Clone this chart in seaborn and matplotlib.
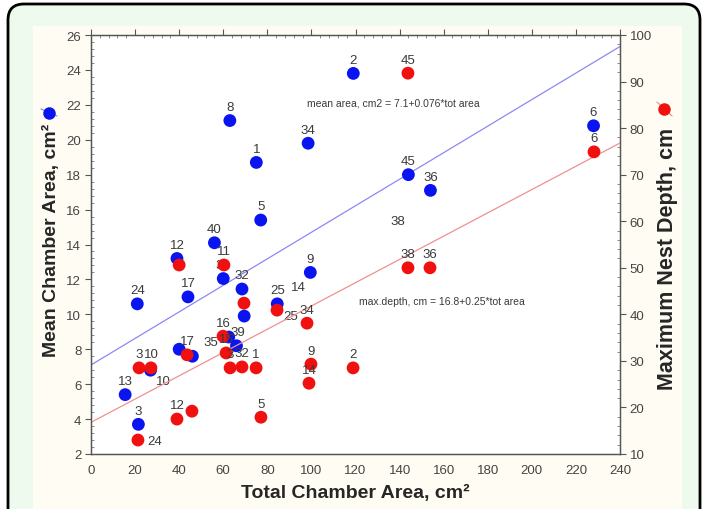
import numpy as np
import matplotlib.pyplot as plt
import seaborn as sns
from matplotlib.patches import FancyBboxPatch
from matplotlib.lines import Line2D
from matplotlib.ticker import MultipleLocator

# Mean chamber area (left axis)
area_x = [21, 15.5, 21.5, 27, 39, 40, 46, 44, 56, 60, 68.5, 69.5, 84.5, 77,
          63, 75, 98.5, 119, 144, 154, 99.5, 66, 62.5, 228]
area_y = [10.6, 5.4, 3.7, 6.8, 13.2, 8.0, 7.6, 11.0, 14.1, 12.05, 11.45, 9.9,
          10.6, 15.4, 21.1, 18.7, 19.8, 23.8, 18.0, 17.1, 12.4, 8.2, 8.7, 20.8]
area_lab = ['24', '13', '3', '', '12', '', '', '17', '40', '31', '32', '', '25', '5',
            '8', '1', '34', '2', '45', '36', '9', '39', '', '6']

# Maximum nest depth (right axis)
depth_x = [21.3, 21.8, 27.2, 39, 45.8, 40, 43.6, 60.3, 69.4, 84.4, 59.9, 61.3,
           63.1, 68.5, 74.9, 77.1, 98, 99.8, 98.9, 118.9, 143.8, 143.8, 153.8, 228.2]
depth_y = [13.0, 28.5, 28.5, 17.5, 19.2, 50.6, 31.3, 50.6, 42.4, 40.9, 35.3, 31.7,
           28.5, 28.7, 28.5, 17.9, 38.1, 29.3, 25.2, 28.5, 91.8, 50.0, 50.0, 74.9]
depth_lab = ['', '3', '10', '12', '', '', '17', '11', '', '', '16', '15',
             '3', '32', '1', '5', '34', '9', '14', '2', '45', '38', '36', '6']

# labels standing apart from their points (left-axis units)
free_lab = ['38', '14', '25', '10', '35', '24']
free_x = [139.3, 93.9, 90.7, 32.7, 54.4, 29.0]
free_y = [15.35, 11.56, 9.9, 6.18, 8.4, 2.74]

# regression lines (intercept, slope)
fit_area = (7.1, 0.076)
fit_depth = (16.8, 0.25)

sns.set_style("white")
plt.rcParams['font.family'] = ['Liberation Sans', 'DejaVu Sans']

fig = plt.figure(figsize=(7.05, 5.1), dpi=100)

# frame and panel background (pixel coords)
fig.patches.append(FancyBboxPatch((8, -30), 692, 535, boxstyle="round,pad=0,rounding_size=16",
                                  transform=None, facecolor='#eefaee', edgecolor='black',
                                  linewidth=2, zorder=-2))
fig.patches.append(FancyBboxPatch((33, -10), 649, 493, boxstyle="square,pad=0",
                                  transform=None, facecolor='#fffdf3', edgecolor='none', zorder=-1))

ax = fig.add_axes([91 / 705, 55 / 510, 529 / 705, 419 / 510])
ax.set_facecolor('white')
ax2 = ax.twinx()

blue = '#0a14f0'
red = '#f01010'
txt = '#3a3a3a'

xs = np.array([0, 240])
sns.lineplot(x=xs, y=fit_area[0] + fit_area[1] * xs, ax=ax, color='#8a8af0', lw=0.9)
sns.lineplot(x=xs, y=fit_depth[0] + fit_depth[1] * xs, ax=ax2, color='#f09090', lw=0.9)

sns.scatterplot(x=area_x, y=area_y, ax=ax, color=blue, s=85, edgecolor='none', zorder=3)
sns.scatterplot(x=depth_x, y=depth_y, ax=ax2, color=red, s=85, edgecolor='none', zorder=3)

for x, y, t in zip(area_x, area_y, area_lab):
    if t:
        ax.annotate(t, (x, y), xytext=(1 if t == '39' else 0, 5.5), textcoords='offset points',
                    ha='center', va='bottom', fontsize=9.5, color=txt)
for x, y, t in zip(depth_x, depth_y, depth_lab):
    if t:
        ax2.annotate(t, (x, y), xytext=(0, 5.5), textcoords='offset points',
                     ha='center', va='bottom', fontsize=9.5, color=txt)
for x, y, t in zip(free_x, free_y, free_lab):
    ax.text(x, y, t, ha='center', va='center', fontsize=9.5, color=txt)

ax.text(98, 22.16, 'mean area, cm2 = 7.1+0.076*tot area', fontsize=7.5, va='center', color=txt)
ax.text(121.6, 10.76, 'max.depth, cm = 16.8+0.25*tot area', fontsize=7.5, va='center', color=txt)

ax.set_xlim(0, 240)
ax.set_ylim(2, 26)
ax2.set_ylim(10, 100)
ax.xaxis.set_major_locator(MultipleLocator(20))
ax.xaxis.set_minor_locator(MultipleLocator(4))
ax.yaxis.set_major_locator(MultipleLocator(2))
ax.yaxis.set_minor_locator(MultipleLocator(0.4))
ax2.yaxis.set_major_locator(MultipleLocator(10))
ax2.yaxis.set_minor_locator(MultipleLocator(2))

for a in (ax, ax2):
    for s in a.spines.values():
        s.set_color('#555555')
        s.set_linewidth(0.9)
ax.tick_params(which='major', direction='out', length=4, width=0.8, color='#555555',
               labelsize=9.5, labelcolor='#444444', pad=3)
ax.tick_params(which='minor', direction='in', length=2.5, width=0.6, color='#777777', top=True)
ax.tick_params(axis='x', which='major', top=True)
ax2.tick_params(which='major', direction='out', length=4, width=0.8, color='#555555',
                labelsize=9.5, labelcolor='#444444', pad=3)
ax2.tick_params(which='minor', direction='in', length=2.5, width=0.6, color='#777777')

ax.set_xlabel('Total Chamber Area, cm²', fontsize=14, fontweight='bold', labelpad=6)
ax.set_ylabel('Mean Chamber Area, cm²', fontsize=14, fontweight='bold')
ax2.set_ylabel('Maximum Nest Depth, cm', fontsize=15.5, fontweight='bold')
ax.yaxis.set_label_coords(-0.058, 0.513)
ax2.yaxis.set_label_coords(1.070, 0.468)

# series keys beside the axis titles
fig.add_artist(Line2D([41 / 705, 57 / 705], [1 - 110 / 510, 1 - 117 / 510], color='#8a8af0', lw=0.9))
fig.add_artist(Line2D([49 / 705], [1 - 114 / 510], marker='o', color=blue, ms=8, lw=0))
fig.add_artist(Line2D([657 / 705, 672 / 705], [1 - 103 / 510, 1 - 117 / 510], color='#f09090', lw=0.9))
fig.add_artist(Line2D([664 / 705], [1 - 110 / 510], marker='o', color=red, ms=8, lw=0))

plt.savefig('out.png', dpi=100)
